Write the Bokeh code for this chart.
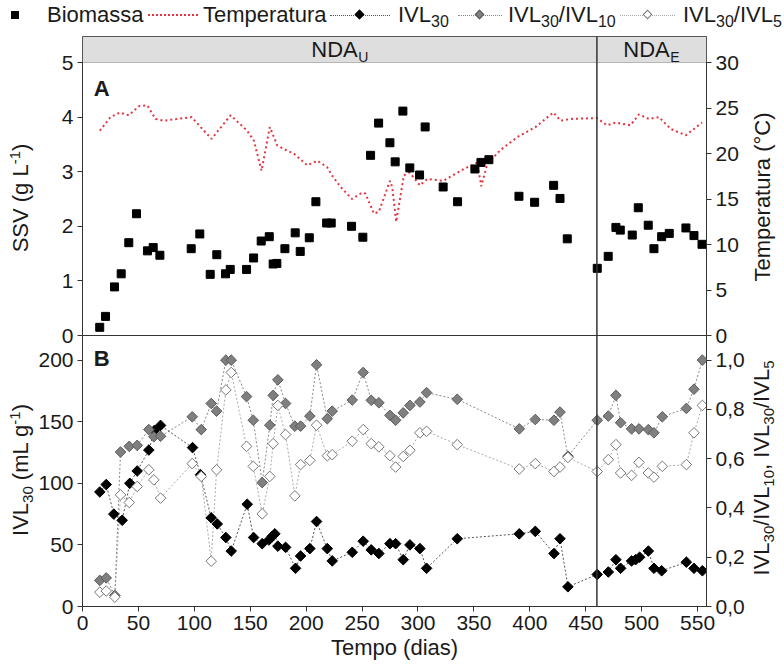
import math
from bokeh.plotting import figure
from bokeh.models import (Range1d, LinearAxis, FixedTicker, CustomJSTickFormatter,
                          Span, BoxAnnotation, Div)
from bokeh.layouts import column
from bokeh.core.properties import value
from bokeh.embed import file_html
from bokeh.resources import INLINE

# ---------------- data ----------------
# Panel A: biomass (SSV, g/L)
days_ssv = [15.4, 20.6, 28.6, 34.6, 41.4, 48.3, 58.1, 63.2, 69.2, 97.2, 104.9, 114.2, 120.1,
            127.9, 132.1, 146.7, 153.0, 159.8, 167.0, 170.5, 173.8, 181.0, 190.2, 194.7, 202.8,
            208.7, 218.3, 222.4, 240.6, 250.7, 257.6, 264.8, 274.9, 279.6, 286.5, 292.7, 301.4,
            306.4, 322.5, 335.4, 350.9, 356.3, 363.4, 390.3, 404.3, 421.3, 427.0, 433.5, 460.3,
            470.1, 477.0, 480.9, 491.6, 497.0, 505.9, 511.0, 517.9, 524.7, 539.6, 546.8, 554.0]
ssv = [0.15, 0.35, 0.89, 1.13, 1.70, 2.23, 1.55, 1.61, 1.47, 1.59, 1.86, 1.12, 1.48,
       1.13, 1.21, 1.21, 1.42, 1.73, 1.81, 1.31, 1.32, 1.59, 1.88, 1.54, 1.79,
       2.45, 2.06, 2.06, 2.00, 1.80, 3.30, 3.89, 3.53, 3.18, 4.11, 3.07, 2.94,
       3.82, 2.72, 2.45, 3.05, 3.17, 3.22, 2.55, 2.44, 2.75, 2.51, 1.77, 1.23,
       1.45, 1.98, 1.93, 1.84, 2.34, 2.02, 1.59, 1.81, 1.87, 1.97, 1.83, 1.67]

# Panel A: temperature (°C)
temp_days = [15.5, 25, 33.4, 41.4, 50.4, 57.8, 65.3, 72.7, 84.6, 97.5, 115.4, 132.4, 147.3,
             153.3, 160.1, 167.5, 174.1, 183, 189, 201, 210, 218.8, 223, 231, 241, 250, 253,
             260.6, 265, 275, 277, 280.5, 287.4, 292.5, 301.7, 308.2, 322.5, 341, 353, 356.6,
             362, 374, 388.8, 405, 421, 427.5, 436.5, 460, 469, 476.7, 490, 497.6, 506.5,
             515.5, 526, 539.4, 554]
temp = [22.5, 24.0, 24.5, 24.2, 25.2, 25.3, 23.8, 23.6, 23.8, 24.0, 21.6, 24.2, 22.5,
        21.4, 18.1, 22.9, 20.9, 20.3, 20.0, 18.7, 19.2, 18.5, 17.6, 16.3, 15.0, 15.7, 15.6,
        13.4, 13.6, 17.0, 16.3, 12.5, 17.6, 17.9, 16.5, 17.2, 17.0, 18.3, 19.0, 16.4,
        18.9, 20.4, 21.8, 22.9, 24.5, 23.6, 23.8, 23.9, 23.1, 23.4, 23.1, 24.3, 23.8,
        24.0, 22.7, 22.0, 23.4]

# Panel B: IVL30 (mL/g)
days_ivl = [15.5, 21.2, 28, 35.5, 42.3, 48.9, 59.3, 64.4, 69.8, 98.4, 105.5, 115.1, 120.5,
            128.2, 133, 147.3, 153, 160.7, 166.7, 169.7, 172, 174.7, 181.6, 190.5, 195, 203.3,
            209.3, 218.9, 223.3, 241.2, 251, 258.2, 265, 274.9, 280, 286.8, 292.8, 301.7,
            307.7, 335.1, 390.6, 404.9, 421.6, 427, 434.1, 460.3, 470.2, 477, 481.2, 491,
            494.6, 498.2, 506, 511, 517.9, 540, 546.8, 554.3]
ivl30 = [93, 99, 75, 70, 100, 110, 127, 143, 147, 129, 107, 72, 67,
         56, 45, 83, 56, 51, 54, 57, 59, 49, 48, 31, 41, 47,
         69, 47, 37, 44, 53, 46, 43, 51, 51, 38, 50, 47,
         31, 55, 59, 61, 43, 55, 16, 26, 28, 38, 31, 37,
         38, 40, 45, 31, 29, 36, 31, 29]

# Panel B: ratios
days_ratio = [15.5, 21.2, 28.9, 34, 41.8, 48.9, 59.3, 63.8, 69.8, 98.1, 106.2, 115.1, 119.9,
              128.2, 133, 146.7, 152.7, 160.7, 167.5, 170.5, 174.7, 181.6, 189.9, 195, 203.3,
              209.3, 218.9, 223.3, 241.2, 251, 258.2, 265, 274.9, 280, 286.8, 292.8, 301.7,
              307.7, 335.1, 390.6, 404.9, 421.6, 427, 434.1, 460.3, 470.2, 477, 481.2, 491,
              497.6, 506, 511, 518.5, 540, 546.8, 554.3]
ratio_30_10 = [0.106, 0.116, 0.045, 0.627, 0.650, 0.654, 0.718, 0.689, 0.691, 0.770, 0.718,
               0.824, 0.793, 1.0, 1.0, 0.852, 0.756, 0.503, 0.736, 0.857, 0.920, 0.824, 0.732,
               0.732, 0.773, 0.981, 0.762, 0.793, 0.838, 0.950, 0.837, 0.827, 0.776, 0.756,
               0.786, 0.816, 0.830, 0.868, 0.841, 0.721, 0.759, 0.756, 0.789, 0.61, 0.756,
               0.773, 0.857, 0.746, 0.721, 0.721, 0.718, 0.705, 0.770, 0.804, 0.882, 1.0]
ratio_30_5 = [0.058, 0.063, 0.038, 0.453, 0.422, 0.487, 0.555, 0.514, 0.440, 0.580, 0.528,
              0.184, 0.555, 0.879, 0.950, 0.650, 0.569, 0.376, 0.528, 0.661, 0.816, 0.698,
              0.449, 0.576, 0.593, 0.736, 0.612, 0.616, 0.671, 0.718, 0.661, 0.648, 0.612,
              0.566, 0.609, 0.634, 0.705, 0.711, 0.657, 0.558, 0.580, 0.548, 0.566, 0.605,
              0.548, 0.596, 0.657, 0.542, 0.532, 0.585, 0.542, 0.525, 0.569, 0.576, 0.705,
              0.816]

# phases
phase_names = ["U", "E"]
phase_bounds = [0, 460, 558]

x_ticks = list(range(0, 551, 50))
ssv_ticks = [0, 1, 2, 3, 4, 5]
temp_ticks = [0, 5, 10, 15, 20, 25, 30]
ivl_ticks = [0, 50, 100, 150, 200]
ratio_ticks = [0.0, 0.2, 0.4, 0.6, 0.8, 1.0]

# ---------------- style ----------------
FONT = "Liberation Sans"
TXT = "#1a1a1a"
W = 784
H = 670
LB, RB = 82, 78
RED = "#e5343f"


def style_axis(ax, title, standoff, ticks):
    ax.axis_label = title
    ax.axis_label_text_font = FONT
    ax.axis_label_text_font_size = "22px"
    ax.axis_label_text_font_style = "normal"
    ax.axis_label_text_color = TXT
    ax.axis_label_standoff = standoff
    ax.major_label_text_font = FONT
    ax.major_label_text_font_size = "21px"
    ax.major_label_text_color = TXT
    ax.major_label_standoff = 4
    ax.axis_line_color = "#333333"
    ax.major_tick_line_color = "#333333"
    ax.major_tick_out = 5
    ax.major_tick_in = 0
    ax.minor_tick_line_color = None
    ax.ticker = FixedTicker(ticks=ticks)


# ---------------- HTML helpers (legend strip and rotated axis titles) ----------------
def sub(t, size=16, drop=5):
    return ('<span style="font-size:%dpx;position:relative;top:%dpx;">%s</span>'
            % (size, drop, t))


def sup(t):
    return '<span style="font-size:15px;position:relative;top:-8px;">%s</span>' % t


def item_text(left, html):
    return ('<span style="position:absolute;left:%dpx;top:4px;white-space:nowrap;">%s</span>'
            % (left, html))


def dline(left, width, color, thick):
    return ('<div style="position:absolute;left:%dpx;top:%dpx;width:%dpx;height:0;'
            'border-top:%dpx dotted %s;"></div>' % (left, 15 - thick // 2, width, thick, color))


def diamond(cx, fill, stroke):
    return ('<div style="position:absolute;left:%dpx;top:11px;width:7px;height:7px;'
            'box-sizing:border-box;background:%s;border:1px solid %s;'
            'transform:rotate(45deg);"></div>' % (cx - 4, fill, stroke))


def vtitle(cx, cy, html):
    return ('<div style="position:absolute;left:%dpx;top:%dpx;white-space:nowrap;'
            'line-height:26px;transform:translate(-50%%,-50%%) rotate(-90deg);">%s</div>'
            % (cx, cy, html))


BOX = ('<div style="position:relative;width:%dpx;height:%dpx;font-family:\'Liberation Sans\','
       'Arial,sans-serif;font-size:22px;line-height:22px;color:#1a1a1a;">')

ivl30_html = "IVL" + sub("30")
legend_html = (
    BOX % (W, 30)
    + '<div style="position:absolute;left:11px;top:11px;width:8px;height:8px;background:#000;"></div>'
    + item_text(47, "Biomassa")
    + dline(148, 50, RED, 2)
    + item_text(203, "Temperatura")
    + dline(330, 60, "#555555", 1) + diamond(360, "#000000", "#000000")
    + item_text(398, ivl30_html)
    + dline(458, 44, "#888888", 1) + diamond(480, "#7f7f7f", "#5a5a5a")
    + item_text(508, ivl30_html + "/IVL" + sub("10"))
    + dline(620, 55, "#aaaaaa", 1) + diamond(648, "#ffffff", "#777777")
    + item_text(683, ivl30_html + "/IVL" + sub("5"))
    + '</div>'
)
leg = Div(text=legend_html, width=W, height=30, margin=0)

t30 = "IVL" + sub("30", 15, 5)
titles_html = (
    BOX % (W, H)
    + vtitle(22, 198, "SSV (g L" + sup("-1") + ")")
    + vtitle(763, 197, "Temperatura (°C)")
    + vtitle(22, 470, t30 + " (mL g" + sup("-1") + ")")
    + vtitle(763, 468, t30 + "/IVL" + sub("10", 15, 5) + ", " + t30 + "/IVL" + sub("5", 15, 5))
    + '</div>'
)
titles = Div(text=titles_html, width=W, height=H, margin=(-H, 0, 0, 0))

# ---------------- panel A ----------------
HA = 305
TOPA = 6
OVER = 12
frameA = HA - TOPA
ytopA = 5 * frameA / 273.0
pA = figure(width=W, height=HA + OVER, x_range=Range1d(phase_bounds[0], phase_bounds[-1]),
            y_range=Range1d(0, ytopA), output_backend="svg", toolbar_location=None,
            x_axis_location=None, min_border_left=LB, min_border_right=RB,
            min_border_top=TOPA, min_border_bottom=OVER)
pA.extra_y_ranges = {"temp": Range1d(0, ytopA * 6)}
pA.grid.visible = False
pA.outline_line_color = "#333333"

band = BoxAnnotation(bottom=5, fill_color="#dedede", fill_alpha=1.0,
                     line_color="#333333", line_width=1, level="underlay")
pA.add_layout(band)

style_axis(pA.yaxis[0], None, 0, ssv_ticks)
pA.yaxis[0].bounds = (0, 5)
axT = LinearAxis(y_range_name="temp")
style_axis(axT, None, 0, temp_ticks)
axT.bounds = (0, 30)
pA.add_layout(axT, "right")

pA.line(temp_days, temp, y_range_name="temp", color=RED, line_width=2, line_dash="2 3")
pA.scatter(days_ssv, ssv, marker="square", size=8, color="black")

band_y = (5 + ytopA) / 2
centers = [(phase_bounds[i] + phase_bounds[i + 1]) / 2 for i in range(len(phase_names))]
pA.text(centers, [band_y] * len(centers), text=["NDA"] * len(centers), text_font=value(FONT),
        text_font_size="22px", text_align="right", text_baseline="middle", x_offset=18,
        text_color=TXT)
pA.text(centers, [band_y] * len(centers), text=phase_names, text_font=value(FONT),
        text_font_size="14px", text_align="left", text_baseline="middle", x_offset=18.5,
        y_offset=7, text_color=TXT)
pA.text([10], [4.52], text=["A"], text_font=value(FONT), text_font_size="22px",
        text_font_style="bold", text_baseline="middle", text_color=TXT)

for b in phase_bounds[1:-1]:
    pA.add_layout(Span(location=b, dimension="height", line_color="#333333", line_width=1.5))

# ---------------- panel B ----------------
HB = 335
BOTB = 64
pB = figure(width=W, height=HB, x_range=pA.x_range, y_range=Range1d(0, 220),
            output_backend="svg", toolbar_location=None, min_border_left=LB,
            min_border_right=RB, min_border_top=0, min_border_bottom=BOTB)
pB.margin = (-OVER, 0, 0, 0)
pB.border_fill_alpha = 0.0
pB.extra_y_ranges = {"ratio": Range1d(0, 1.1)}
pB.grid.visible = False
pB.outline_line_color = "#333333"

style_axis(pB.yaxis[0], None, 0, ivl_ticks)
pB.yaxis[0].bounds = (0, 200)
axR = LinearAxis(y_range_name="ratio")
style_axis(axR, None, 0, ratio_ticks)
axR.bounds = (0, 1.0)
axR.formatter = CustomJSTickFormatter(code="return tick.toFixed(1).replace('.', ',');")
pB.add_layout(axR, "right")
style_axis(pB.xaxis[0], "Tempo (dias)", 2, x_ticks)

pB.line(days_ratio, ratio_30_5, y_range_name="ratio", color="#aaaaaa", line_width=1,
        line_dash="2 2")
pB.line(days_ratio, ratio_30_10, y_range_name="ratio", color="#888888", line_width=1,
        line_dash="2 2")
pB.line(days_ivl, ivl30, color="#555555", line_width=1, line_dash="2 2")
pB.scatter(days_ivl, ivl30, marker="square", angle=math.pi / 4, size=7.5, color="black")
pB.scatter(days_ratio, ratio_30_10, y_range_name="ratio", marker="square", angle=math.pi / 4,
           size=7.5, fill_color="#7f7f7f", line_color="#5a5a5a")
pB.scatter(days_ratio, ratio_30_5, y_range_name="ratio", marker="square", angle=math.pi / 4,
           size=7.5, fill_color="white", line_color="#777777")
pB.text([10], [201], text=["B"], text_font=value(FONT), text_font_size="22px",
        text_font_style="bold", text_baseline="middle", text_color=TXT)

for b in phase_bounds[1:-1]:
    pB.add_layout(Span(location=b, dimension="height", line_color="#333333", line_width=1.5))

layout = column(leg, pA, pB, titles, spacing=0)
open("out.html", "w").write(file_html(layout, INLINE))
